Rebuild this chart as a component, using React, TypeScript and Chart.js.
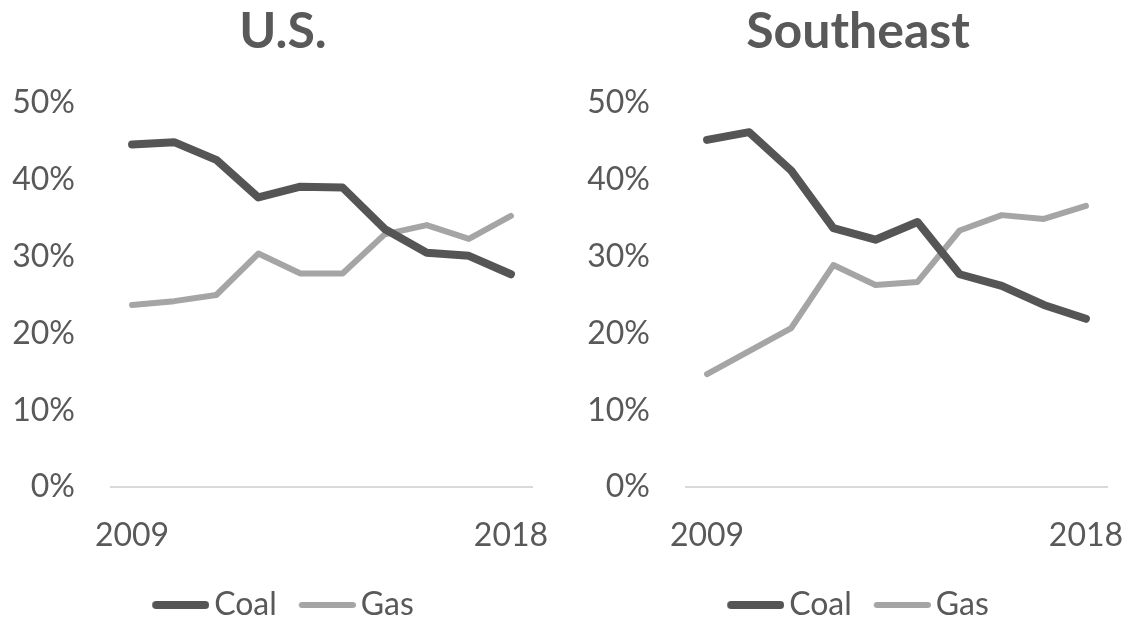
import React, { useEffect, useRef } from "react";
import { Chart, registerables } from "chart.js";

Chart.register(...registerables);

const years = ["2009", "2010", "2011", "2012", "2013", "2014", "2015", "2016", "2017", "2018"];
const usCoal = [44.6, 44.9, 42.6, 37.7, 39.1, 39.0, 33.6, 30.5, 30.1, 27.7];
const usGas = [23.7, 24.2, 25.0, 30.4, 27.8, 27.8, 32.9, 34.1, 32.3, 35.3];
const seCoal = [45.2, 46.2, 41.2, 33.7, 32.2, 34.5, 27.7, 26.2, 23.7, 21.9];
const seGas = [14.7, 17.7, 20.7, 28.9, 26.3, 26.7, 33.4, 35.4, 34.9, 36.6];
const yMin = 0;
const yMax = 50;
const yStep = 10;

const FONT = "Lato";
const TEXT = "#595959";
const COAL = "#555555";
const GAS = "#A5A5A5";

// Legend sample: a rounded line that reaches a little past the legend box, toward the label
function legendSample(color: string, width: number): HTMLCanvasElement {
  const c = document.createElement("canvas");
  c.width = 68;
  c.height = 12;
  const g = c.getContext("2d");
  if (g) {
    g.strokeStyle = color;
    g.lineWidth = width;
    g.lineCap = "round";
    g.beginPath();
    g.moveTo(11 + width / 2, 6);
    g.lineTo(68 - width / 2, 6);
    g.stroke();
  }
  return c;
}

function Panel({ title, coal, gas, left }: { title: string; coal: number[]; gas: number[]; left: number }) {
  const ref = useRef<HTMLCanvasElement | null>(null);
  useEffect(() => {
    if (!ref.current) return;
    const chart = new Chart(ref.current, {
      type: "line",
      data: {
        labels: years,
        datasets: [
          {
            label: "Coal",
            data: coal,
            borderColor: COAL,
            backgroundColor: COAL,
            borderWidth: 8,
            borderCapStyle: "round",
            borderJoinStyle: "round",
            pointRadius: 0,
            pointStyle: legendSample(COAL, 8),
            tension: 0,
          },
          {
            label: "Gas",
            data: gas,
            borderColor: GAS,
            backgroundColor: GAS,
            borderWidth: 6,
            borderCapStyle: "round",
            borderJoinStyle: "round",
            pointRadius: 0,
            pointStyle: legendSample(GAS, 6),
            tension: 0,
          },
        ],
      },
      options: {
        responsive: false,
        animation: false,
        events: [],
        layout: { padding: { left: 0, right: 0, top: 0, bottom: -10 } },
        plugins: {
          title: {
            display: true,
            text: title,
            color: TEXT,
            font: { family: FONT, size: 50, weight: "bold" },
            padding: { top: 2, bottom: 41 },
          },
          legend: {
            position: "bottom",
            labels: {
              usePointStyle: true,
              pointStyleWidth: 46,
              color: TEXT,
              font: { family: FONT, size: 32 },
              padding: 22,
            },
          },
          tooltip: { enabled: false },
        },
        scales: {
          x: {
            type: "category",
            offset: true,
            grid: { display: true, drawOnChartArea: false, drawTicks: true, tickLength: 26, color: "rgba(0,0,0,0)" },
            border: { display: true, color: "#D9D9D9", width: 2 },
            ticks: {
              autoSkip: false,
              maxRotation: 0,
              padding: 3,
              color: TEXT,
              font: { family: FONT, size: 32 },
              callback: (_v: any, i: number) => (i === 0 || i === years.length - 1 ? years[i] : ""),
            },
            afterFit: (s: any) => {
              s.height = 80;
            },
          },
          y: {
            position: "left",
            min: yMin,
            max: yMax,
            grid: { display: false, drawTicks: false },
            border: { display: false },
            ticks: {
              stepSize: yStep,
              padding: 36,
              color: TEXT,
              font: { family: FONT, size: 32 },
              callback: (v: any) => v + "%",
            },
            afterFit: (s: any) => {
              s.width = 111;
            },
          },
          yRight: {
            position: "right",
            min: yMin,
            max: yMax,
            grid: { display: false, drawTicks: false },
            border: { display: false },
            ticks: { display: false },
            afterFit: (s: any) => {
              s.width = 34;
            },
          },
        },
      },
    });
    return () => chart.destroy();
  }, []);
  return (
    <canvas
      ref={ref}
      width={566}
      height={621}
      style={{ position: "absolute", left, top: 0, width: 566, height: 621 }}
    />
  );
}

export default function App() {
  return (
    <div
      style={{
        position: "absolute",
        left: 0,
        top: 0,
        width: 1130,
        height: 621,
        overflow: "hidden",
        background: "#ffffff",
      }}
    >
      <Panel title="U.S." coal={usCoal} gas={usGas} left={0} />
      <Panel title="Southeast" coal={seCoal} gas={seGas} left={575} />
    </div>
  );
}
